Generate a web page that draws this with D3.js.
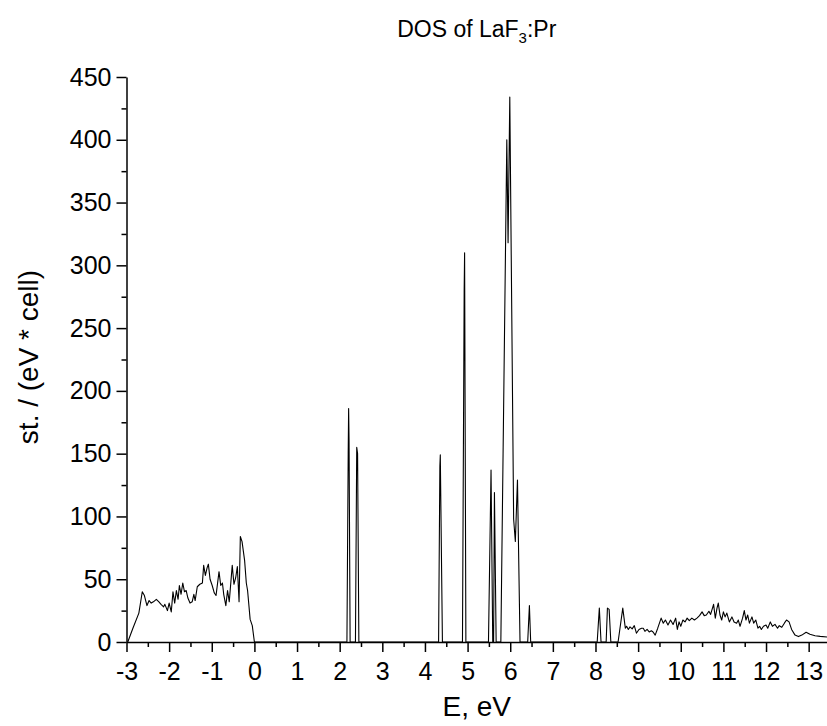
<!DOCTYPE html>
<html>
<head>
<meta charset="utf-8">
<script src="https://cdn.jsdelivr.net/npm/d3@7"></script>
<style>
  body { margin: 0; background: #fff; }
  svg { display: block; font-family: Arial, "Liberation Sans", sans-serif; }
  .axis path, .axis line { stroke: #000; stroke-width: 1.5px; }
  .axis text { font-size: 25px; fill: #000; }
</style>
</head>
<body>
<div id="chart"></div>
<script>
// energies (eV) and density of states
var energy = [
  -2.97, -2.85, -2.71, -2.63, -2.58, -2.52, -2.47, -2.42, -2.37, -2.30,
  -2.24, -2.19, -2.13, -2.10, -2.04, -2.00, -1.95, -1.91, -1.87, -1.83,
  -1.79, -1.76, -1.72, -1.68, -1.64, -1.60, -1.56, -1.51, -1.46, -1.42,
  -1.39, -1.34, -1.28, -1.22, -1.19, -1.15, -1.11, -1.08, -1.04, -0.99,
  -0.94, -0.90, -0.83, -0.79, -0.75, -0.72, -0.67, -0.63, -0.59, -0.52,
  -0.48, -0.44, -0.40, -0.36, -0.33, -0.29, -0.23, -0.19, -0.16, -0.10,
  -0.05, 0.00,
  2.17, 2.20, 2.21, 2.22, 2.245, 2.37, 2.40, 2.42, 2.45,
  4.32, 4.35, 4.36, 4.41, 4.88, 4.92, 4.93, 4.96,
  5.49, 5.55, 5.59, 5.61, 5.63, 5.67, 5.78, 5.92, 5.95, 5.99,
  6.08, 6.12, 6.17, 6.23, 6.41, 6.45, 6.48,
  8.04, 8.09, 8.13, 8.25, 8.28, 8.32, 8.36, 8.53, 8.64, 8.70,
  8.73, 8.77, 8.81, 8.86, 8.91, 8.96, 9.02, 9.08, 9.12, 9.16,
  9.21, 9.26, 9.31, 9.35, 9.40, 9.46, 9.54, 9.59, 9.64, 9.70,
  9.76, 9.82, 9.88, 9.92, 9.96, 10.00, 10.05, 10.10, 10.15, 10.20,
  10.26, 10.32, 10.38, 10.44, 10.50, 10.55, 10.60, 10.66, 10.70, 10.77,
  10.81, 10.85, 10.88, 10.92, 10.96, 11.00, 11.04, 11.08, 11.14, 11.20,
  11.25, 11.31, 11.35, 11.39, 11.45, 11.49, 11.53, 11.57, 11.61, 11.67,
  11.71, 11.76, 11.81, 11.85, 11.89, 11.94, 12.00, 12.04, 12.10, 12.15,
  12.21, 12.27, 12.31, 12.37, 12.43, 12.48, 12.54, 12.60, 12.68, 12.76,
  12.84, 12.94, 13.03, 13.15, 13.27, 13.43
];
var dos = [
  0, 11, 23, 40, 37, 29, 33, 31, 32, 34,
  32, 30, 28, 30, 25, 31, 24, 40, 31, 41,
  34, 45, 38, 47, 40, 41, 35, 31, 32, 38,
  33, 44, 46, 47, 61, 53, 59, 62, 50, 45,
  39, 37, 56, 45, 47, 38, 29, 41, 32, 61,
  46, 51, 60, 32, 84, 80, 65, 47, 41, 18,
  13, 0,
  0, 150, 186, 160, 0, 0, 155, 150, 0,
  0, 140, 149, 0, 0, 280, 310, 0,
  0, 137, 0, 0, 119, 0, 0, 400, 318, 434,
  98, 80, 129, 0, 0, 29, 0,
  0, 27, 0, 0, 27, 26, 0, 0, 27, 11,
  12.5, 10, 12, 10.5, 13, 7, 10, 11, 11, 8.5,
  10, 8, 9, 8, 5.5, 11, 19, 15, 17.5, 13.5,
  17.5, 14, 19, 10, 16, 12.5, 17.5, 16, 19, 17,
  19, 17.5, 19, 21, 24, 21, 21.5, 24.5, 22, 30,
  19, 27, 31, 21.5, 17.5, 24, 20, 23, 16, 20,
  16, 15, 17.5, 12.5, 19, 25, 17.5, 21.5, 15, 20,
  15, 17.5, 11, 12.5, 10, 12.5, 13.5, 11, 16, 12.5,
  14, 11, 13, 11.7, 15, 17.5, 16, 10, 5.5, 4.3,
  5.5, 7.7, 6.2, 5, 4.5, 4
];
var xTicks = [-3, -2, -1, 0, 1, 2, 3, 4, 5, 6, 7, 8, 9, 10, 11, 12, 13];
var yTicks = [0, 50, 100, 150, 200, 250, 300, 350, 400, 450];

var svgWidth = 827;
var svgHeight = 726;

var margin = {
  top: 77,
  right: 0,
  bottom: 84,
  left: 126.5
};

var width = svgWidth - margin.left - margin.right;
var height = svgHeight - margin.top - margin.bottom;

var svg = d3.select("#chart")
  .append("svg")
  .attr("width", svgWidth)
  .attr("height", svgHeight);

var chartGroup = svg.append("g")
  .attr("transform", `translate(${margin.left}, ${margin.top})`);

var xScale = d3.scaleLinear()
  .domain([-3, 13.43])
  .range([0, width]);

var yScale = d3.scaleLinear()
  .domain([0, 450])
  .range([height, 0]);

var points = energy.map((e, i) => [e, dos[i]]);

var line = d3.line()
  .x(d => xScale(d[0]))
  .y(d => yScale(d[1]));

chartGroup.append("path")
  .datum(points)
  .attr("fill", "none")
  .attr("stroke", "#000")
  .attr("stroke-width", 1.1)
  .attr("stroke-linejoin", "round")
  .attr("d", line);

// minor ticks
var xMinor = d3.range(-2.5, 13.5, 1);
var yMinor = d3.range(25, 450, 50);

chartGroup.append("g")
  .classed("axis", true)
  .attr("transform", `translate(0, ${height})`)
  .call(d3.axisBottom(xScale).tickValues(xMinor).tickSize(5).tickFormat(""))
  .select(".domain").remove();

chartGroup.append("g")
  .classed("axis", true)
  .call(d3.axisLeft(yScale).tickValues(yMinor).tickSize(5).tickFormat(""))
  .select(".domain").remove();

// major axes, plain hyphen for negatives like the original
chartGroup.append("g")
  .classed("axis", true)
  .attr("transform", `translate(0, ${height})`)
  .call(d3.axisBottom(xScale).tickValues(xTicks).tickSize(10).tickPadding(10)
    .tickSizeOuter(0).tickFormat(d => String(d)));

chartGroup.append("g")
  .classed("axis", true)
  .call(d3.axisLeft(yScale).tickValues(yTicks).tickSize(10).tickPadding(5)
    .tickSizeOuter(0).tickFormat(d => String(d)));

chartGroup.selectAll(".axis text").attr("font-family", null);

// title
var title = svg.append("text")
  .attr("x", margin.left + width / 2)
  .attr("y", 37)
  .attr("text-anchor", "middle")
  .style("font-size", "23px");
title.append("tspan").text("DOS of LaF");
title.append("tspan").attr("dy", 6).style("font-size", "15px").text("3");
title.append("tspan").attr("dy", -6).text(":Pr");

// axis labels
svg.append("text")
  .attr("x", margin.left + width / 2)
  .attr("y", 716)
  .attr("text-anchor", "middle")
  .style("font-size", "28px")
  .text("E, eV");

svg.append("text")
  .attr("transform", "translate(38, 357) rotate(-90)")
  .attr("text-anchor", "middle")
  .style("font-size", "28px")
  .text("st. / (eV * cell)");
</script>
</body>
</html>
